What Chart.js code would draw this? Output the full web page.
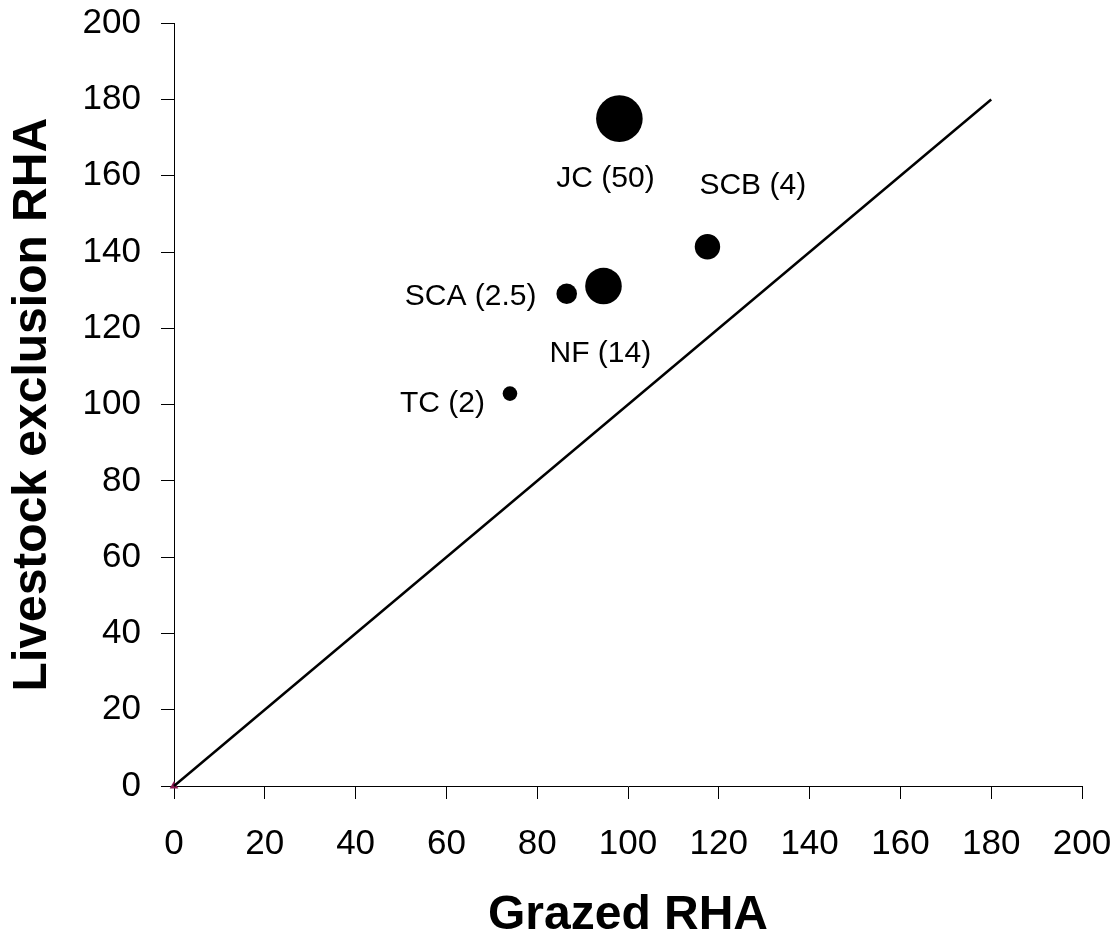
<!DOCTYPE html>
<html>
<head>
<meta charset="utf-8">
<script src="https://cdn.jsdelivr.net/npm/chart.js@4.4.1/dist/chart.umd.min.js"></script>
<style>
  html, body { margin: 0; padding: 0; background: #ffffff; }
  #wrap { width: 1120px; height: 941px; }
</style>
</head>
<body>
<div id="wrap"><canvas id="chart" width="1120" height="941"></canvas></div>
<script>
// Sites: grazed vs. livestock-exclusion RHA
const siteNames   = ['JC', 'SCB', 'NF', 'SCA', 'TC'];
const siteAreas   = ['50', '4', '14', '2.5', '2'];
const grazedRHA   = [98.1, 117.5, 94.6, 86.5, 74.0];
const excludedRHA = [175.0, 141.4, 131.1, 129.1, 102.9];
const bubbleSize  = [23.3, 12.7, 18.3, 10.3, 7.3];

// 1:1 reference line
const oneToOneX = [0, 180];
const oneToOneY = [0, 180];

// axis ticks
const tickValues = [0, 20, 40, 60, 80, 100, 120, 140, 160, 180, 200];

const FONT = "'Liberation Sans', Arial, Helvetica, sans-serif";

// label placement relative to each bubble centre (left edge, baseline)
const labelOffset = {
  JC:  { dx: -63,  dy: 68 },
  SCB: { dx: -8,   dy: -53 },
  NF:  { dx: -54,  dy: 76 },
  SCA: { dx: -162, dy: 11 },
  TC:  { dx: -110, dy: 18 }
};

const siteLabels = {
  id: 'siteLabels',
  afterDatasetsDraw(chart) {
    const meta = chart.getDatasetMeta(1);
    const ctx = chart.ctx;
    ctx.save();
    ctx.font = '30px ' + FONT;
    ctx.fillStyle = '#000000';
    ctx.textAlign = 'left';
    ctx.textBaseline = 'alphabetic';
    meta.data.forEach((el, i) => {
      const name = siteNames[i];
      const off = labelOffset[name];
      ctx.fillText(name + ' (' + siteAreas[i] + ')', el.x + off.dx, el.y + off.dy);
    });
    ctx.restore();
  }
};

const bubbles = grazedRHA.map((x, i) => ({ x: x, y: excludedRHA[i], r: bubbleSize[i] }));
const lineData = oneToOneX.map((x, i) => ({ x: x, y: oneToOneY[i] }));

// the plot frame is set by layout padding alone, not by label overhang
function clearScalePadding(scale) {
  scale.paddingTop = 0;
  scale.paddingBottom = 0;
  scale.paddingLeft = 0;
  scale.paddingRight = 0;
}

const axisCommon = {
  type: 'linear',
  min: tickValues[0],
  max: tickValues[tickValues.length - 1],
  afterBuildTicks(scale) { scale.ticks = tickValues.map(v => ({ value: v })); },
  grid: {
    drawOnChartArea: false,
    drawTicks: true,
    tickLength: 13,
    color: '#000000',
    lineWidth: 1
  },
  border: { display: true, color: '#000000', width: 1 }
};

new Chart(document.getElementById('chart'), {
  data: {
    datasets: [
      {
        type: 'scatter',
        data: lineData,
        showLine: true,
        borderColor: '#000000',
        borderWidth: 2.5,
        pointRadius: 0,
        clip: false
      },
      {
        type: 'bubble',
        data: bubbles,
        backgroundColor: '#000000',
        borderColor: '#000000',
        borderWidth: 0,
        clip: false
      },
      {
        type: 'scatter',
        data: [{ x: 0, y: 0 }],
        pointStyle: 'triangle',
        pointRadius: 5,
        backgroundColor: '#8B1A52',
        borderColor: '#8B1A52',
        borderWidth: 0,
        clip: false
      }
    ]
  },
  options: {
    responsive: false,
    animation: false,
    devicePixelRatio: 1,
    layout: { padding: { top: 23, right: 38, bottom: 0, left: 0 } },
    plugins: {
      legend: { display: false },
      tooltip: { enabled: false }
    },
    scales: {
      x: Object.assign({}, axisCommon, {
        position: 'bottom',
        afterFit(scale) { scale.height = 155; clearScalePadding(scale); },
        ticks: { color: '#000000', font: { family: FONT, size: 35 }, padding: 24, maxRotation: 0 },
        title: {
          display: true,
          text: 'Grazed RHA',
          color: '#000000',
          font: { family: FONT, size: 48, weight: 'bold', lineHeight: 1 },
          padding: { top: 0, bottom: 1 }
        }
      }),
      y: Object.assign({}, axisCommon, {
        position: 'left',
        afterFit(scale) { scale.width = 174; clearScalePadding(scale); },
        ticks: { color: '#000000', font: { family: FONT, size: 35 }, padding: 20 },
        title: {
          display: true,
          text: 'Livestock exclusion RHA',
          color: '#000000',
          font: { family: FONT, size: 48, weight: 'bold', lineHeight: 1 },
          padding: { top: 9, bottom: 0 }
        }
      })
    }
  },
  plugins: [siteLabels]
});
</script>
</body>
</html>
